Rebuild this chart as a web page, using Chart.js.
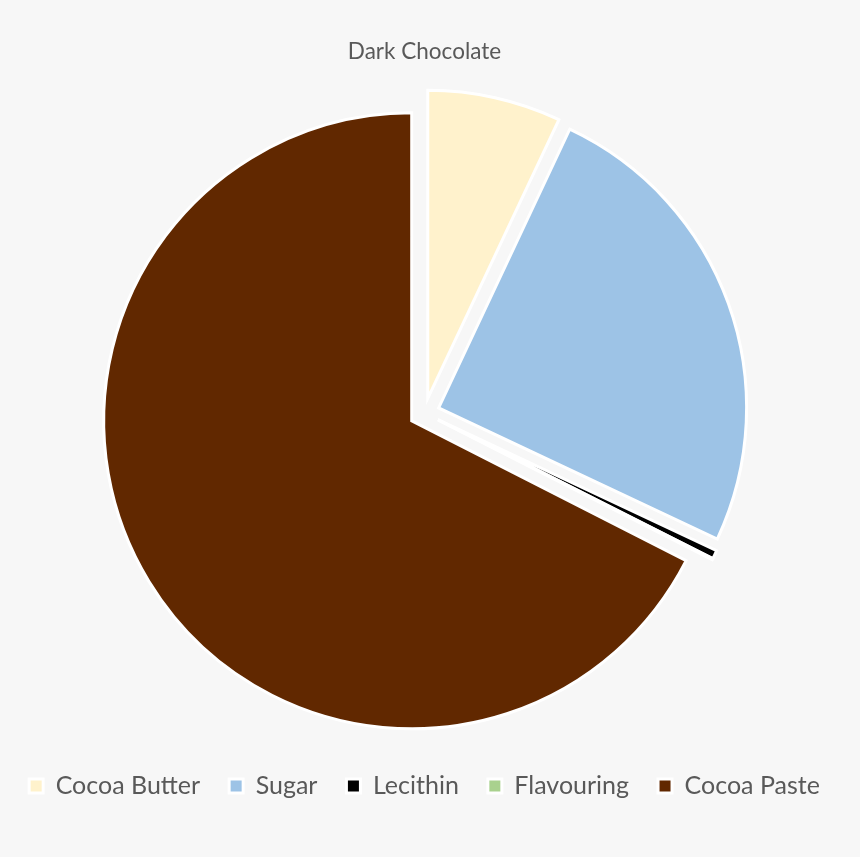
<!DOCTYPE html>
<html>
<head>
<meta charset="utf-8">
<script src="https://cdn.jsdelivr.net/npm/chart.js@4.4.1/dist/chart.umd.min.js"></script>
<style>
  html, body { margin: 0; padding: 0; background: #f7f7f7; }
  #wrap { width: 860px; height: 857px; }
</style>
</head>
<body>
<div id="wrap"><canvas id="chocChart" width="860" height="857"></canvas></div>
<script>
const ingredients = ['Cocoa Butter', 'Sugar', 'Lecithin', 'Flavouring', 'Cocoa Paste'];
const shares = [7, 25, 0.45, 0.05, 67.5];
const sliceColours = ['#fff2cc', '#9dc3e6', '#000000', '#a9d18e', '#612800'];

const EXPLODE = 15; // every slice pulled out a little, like the excel "point explosion"

// push each arc out along its middle angle
const explodePlugin = {
    id: 'explode',
    afterDatasetsUpdate(chart) {
        chart.getDatasetMeta(0).data.forEach(function (arc) {
            const mid = (arc.startAngle + arc.endAngle) / 2;
            arc.x += Math.cos(mid) * EXPLODE;
            arc.y += Math.sin(mid) * EXPLODE;
        });
    }
};

const chartConfig = {
    type: 'pie',
    data: {
        labels: ingredients,
        datasets: [{
            data: shares,
            backgroundColor: sliceColours,
            borderColor: '#ffffff',
            borderWidth: 3,
            borderJoinStyle: 'miter',
            radius: 308
        }]
    },
    options: {
        responsive: false,
        animation: false,
        layout: {
            padding: { left: 0, right: 11, top: 0, bottom: 48.5 }
        },
        plugins: {
            title: {
                display: true,
                text: 'Dark Chocolate',
                color: '#595959',
                font: { family: 'Lato', size: 22.5, weight: 'normal' },
                padding: { top: 38, bottom: 16.5 }
            },
            legend: {
                position: 'bottom',
                labels: {
                    color: '#595959',
                    font: { family: 'Lato', size: 25 },
                    boxWidth: 14,
                    boxHeight: 14,
                    padding: 29
                }
            },
            tooltip: { enabled: false }
        }
    },
    plugins: [explodePlugin]
};

const ctx = document.getElementById('chocChart').getContext('2d');
const myChart = new Chart(ctx, chartConfig);
</script>
</body>
</html>
